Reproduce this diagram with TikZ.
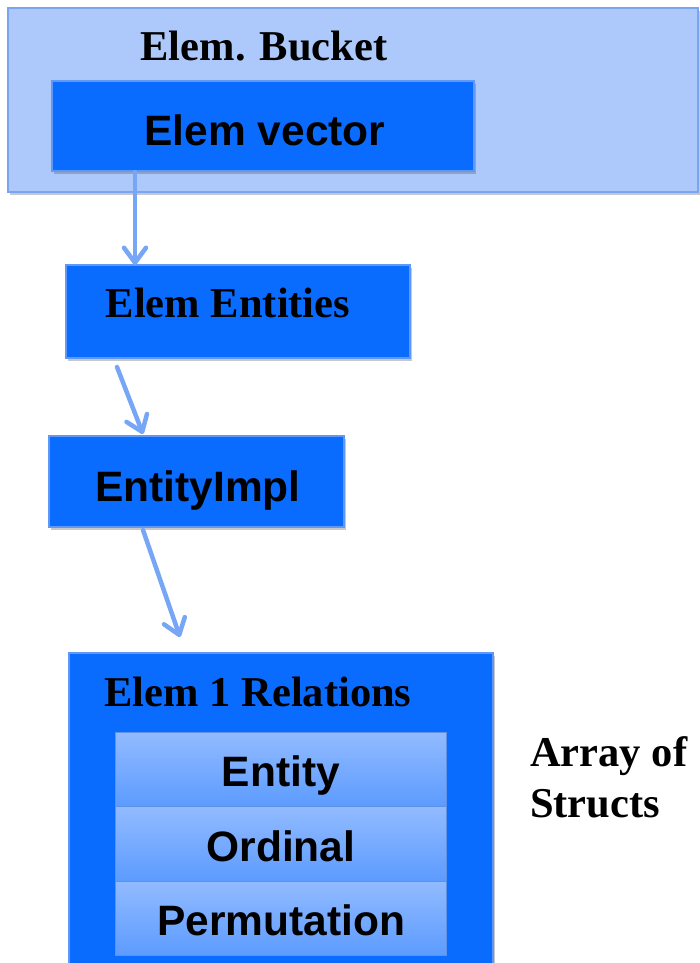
\documentclass[tikz,border=0pt]{standalone}
\usepackage{fontspec}
\setmainfont{Liberation Serif}
\newfontfamily\arialfont{Liberation Sans}
\usetikzlibrary{arrows.meta,shadows,calc}
\definecolor{bucketfill}{RGB}{173,201,252}
\definecolor{bucketline}{RGB}{122,165,245}
\definecolor{mainblue}{RGB}{10,108,255}
\definecolor{mainline}{RGB}{95,152,245}
\definecolor{celltop}{RGB}{146,187,255}
\definecolor{cellbot}{RGB}{92,155,255}
\definecolor{cellline}{RGB}{95,145,230}
\definecolor{arrowblue}{RGB}{120,166,247}
\begin{document}
\begin{tikzpicture}[x=1pt,y=-1pt,
  shadowed/.style={drop shadow={shadow xshift=2pt, shadow yshift=-3pt, opacity=0.3, fill=black!70}},
  bucketbox/.style={draw=bucketline, line width=1.2pt, fill=bucketfill, anchor=north west, inner sep=0pt, outer sep=0pt, shadowed},
  box/.style={draw=mainline, line width=1.2pt, fill=mainblue, anchor=north west, inner sep=0pt, outer sep=0pt, shadowed},
  cell/.style={draw=cellline, line width=0.8pt, top color=celltop, bottom color=cellbot, anchor=north west, inner sep=0pt, outer sep=0pt, minimum width=331pt, minimum height=74.5pt},
  serifbold/.style={inner sep=0pt, font=\fontsize{42.5}{47}\selectfont\bfseries},
  sansbold/.style={inner sep=0pt, font=\fontsize{42.5}{47}\selectfont\arialfont\bfseries},
  conn/.style={draw=arrowblue, line width=4.5pt, line cap=round, -{Straight Barb[length=15pt, width=22pt, round]}}
]
\useasboundingbox (0,0) rectangle (700,963);
\fill[white] (0,0) rectangle (700,963);

% bucket
\node[bucketbox, minimum width=690pt, minimum height=184pt] (bucket) at (8,8) {};
\node[serifbold, anchor=base] (buckettxt) at (264,61) {Elem. Bucket};
\node[box, minimum width=422pt, minimum height=90pt] (ev) at (52,81) {};
\node[sansbold, anchor=base] (evtxt) at (265,145) {Elem vector};

% entities
\node[box, minimum width=344pt, minimum height=93pt] (ee) at (66,265) {};
\node[serifbold, anchor=base] (eetxt) at (228,317) {Elem Entities};

% entity impl
\node[box, minimum width=295pt, minimum height=91pt] (ei) at (49,436) {};
\node[sansbold, anchor=base] (eitxt) at (198,501) {EntityImpl};

% relations
\node[box, minimum width=424pt, minimum height=330pt] (rel) at (69,653) {};
\node[serifbold, anchor=base] (reltxt) at (258,706) {Elem 1 Relations};
\node[cell] (c1) at (115,732) {};
\node[cell] (c2) at (115,806.5) {};
\node[cell] (c3) at (115,881) {};
\node[sansbold, anchor=base] (c1txt) at (281,786) {Entity};
\node[sansbold, anchor=base] (c2txt) at (281,861) {Ordinal};
\node[sansbold, anchor=base] (c3txt) at (281,935) {Permutation};

% side label
\node[serifbold, anchor=base west] (arr1) at (530,766) {Array of};
\node[serifbold, anchor=base west] (arr2) at (530,817) {Structs};

% connectors
\draw[conn] ($(ev.south west)+(83,1)$) -- ($(ee.north west)+(69,0)$);
\draw[conn] ($(ee.south west)+(51,9)$) -- ($(ei.north west)+(94,-2)$);
\draw[conn] ($(ei.south west)+(94,3)$) -- ($(rel.north west)+(111,-16)$);
\end{tikzpicture}
\end{document}
